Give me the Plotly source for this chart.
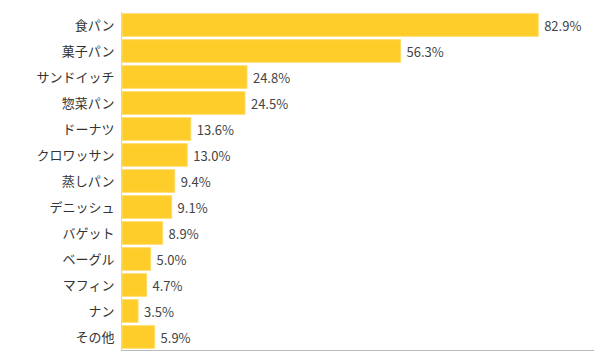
import plotly.graph_objects as go

categories = ["食パン", "菓子パン", "サンドイッチ", "惣菜パン", "ドーナツ", "クロワッサン",
              "蒸しパン", "デニッシュ", "バゲット", "ベーグル", "マフィン", "ナン", "その他"]
# bar lengths as drawn in the reference
bar_values = [82.9, 55.5, 24.9, 24.5, 13.7, 13.0, 10.5, 9.9, 8.1, 5.7, 4.9, 3.2, 6.5]
# printed value labels
label_values = [82.9, 56.3, 24.8, 24.5, 13.6, 13.0, 9.4, 9.1, 8.9, 5.0, 4.7, 3.5, 5.9]
value_labels = [f" {v:.1f}%" for v in label_values]

fig = go.Figure(go.Bar(
    x=bar_values,
    y=categories,
    orientation="h",
    marker=dict(color="#FFCD29", line=dict(color="#FFDB66", width=1)),
    text=value_labels,
    textposition="outside",
    textfont=dict(family="Noto Sans CJK JP", size=13, color="#444444"),
    cliponaxis=False,
))

fig.update_layout(
    width=594, height=351,
    margin=dict(l=113.5, r=0, t=4, b=9),
    paper_bgcolor="white", plot_bgcolor="white",
    bargap=0.13,
    showlegend=False,
    font=dict(family="Noto Sans CJK JP", size=13, color="#333333"),
    xaxis=dict(range=[0, 95.6], showticklabels=False, showgrid=False, zeroline=False,
               showline=True, linecolor="#BBBBBB", linewidth=1, ticks="", fixedrange=True),
    yaxis=dict(autorange="reversed", showgrid=False, zeroline=False,
               showline=True, linecolor="#CCD6EB", linewidth=1, ticks="",
               ticklabelstandoff=4,
               tickfont=dict(family="Noto Sans CJK JP", size=13, color="#333333")),
)

fig.write_html("out.html")
